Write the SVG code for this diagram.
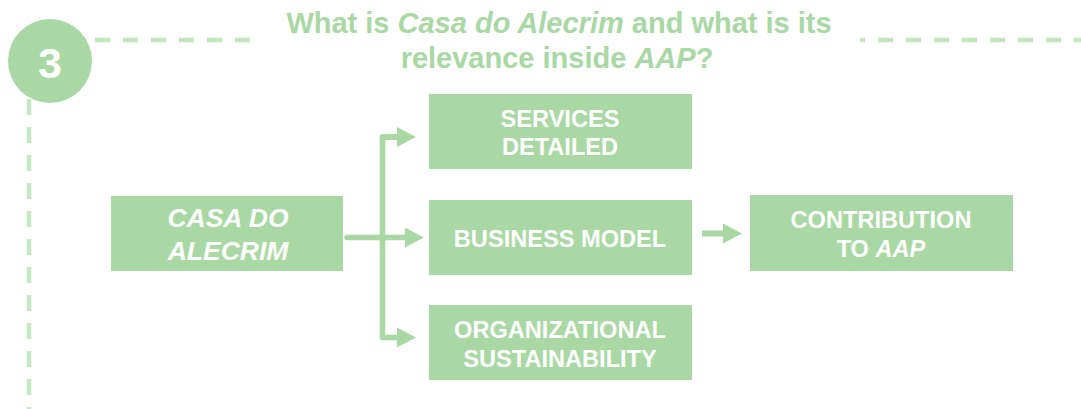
<svg xmlns="http://www.w3.org/2000/svg" width="1081" height="409" viewBox="0 0 1081 409">
<style>
.box{fill:#a9d8a4}
.bt{fill:#ffffff;font-family:"Liberation Sans",Arial,sans-serif;font-weight:bold;font-size:23.6px;text-anchor:middle}
.big{font-size:26.5px}
.it{font-style:italic}
.dash{stroke:#c4e6c0;stroke-width:4.5;fill:none}
.conn{stroke:#a9d8a4;stroke-width:5.5;fill:none;stroke-linejoin:round;stroke-linecap:round}
.title{fill:#a9d8a4;font-family:"Liberation Sans",Arial,sans-serif;font-weight:bold;font-size:29px;text-anchor:middle}
</style>
<defs>
<marker id="ah" markerUnits="userSpaceOnUse" markerWidth="20" markerHeight="20" viewBox="0 0 18 19" refX="0" refY="9.5" orient="auto">
<path d="M0,0 L18,9.5 L0,19 Z" fill="#a9d8a4"/>
</marker>
</defs>
<g id="frame">
<line class="dash" x1="95" y1="40" x2="250" y2="40" stroke-dasharray="15 13"/>
<line class="dash" x1="860" y1="40" x2="1081" y2="40" stroke-dasharray="15 13" stroke-dashoffset="10"/>
<line class="dash" x1="29" y1="99" x2="29" y2="409" stroke-dasharray="16 12"/>
</g>
<g id="badge">
<circle cx="50" cy="61" r="42" fill="#a9d8a4"/>
<text x="50" y="78" fill="#ffffff" font-family="Liberation Sans,Arial,sans-serif" font-weight="bold" font-size="43" text-anchor="middle">3</text>
</g>
<g id="title">
<text class="title" x="559" y="33">What is <tspan class="it">Casa do Alecrim</tspan> and what is its</text>
<text class="title" x="557" y="68">relevance inside <tspan class="it">AAP</tspan>?</text>
</g>
<g id="connectors">
<line class="conn" x1="347" y1="237.5" x2="405" y2="237.5" marker-end="url(#ah)"/>
<path class="conn" d="M397,137 L382.5,137 L382.5,337.5 L397,337.5" marker-end="url(#ah)"/>
<path class="conn" d="M382.5,137 L397,137" marker-end="url(#ah)"/>
<line x1="702" y1="233.5" x2="723" y2="233.5" stroke="#a9d8a4" stroke-width="6" marker-end="url(#ah)"/>
</g>
<g id="casa">
<rect class="box" x="111" y="196" width="232" height="75"/>
<text class="bt it big" x="228" y="227">CASA DO</text>
<text class="bt it big" x="228" y="260">ALECRIM</text>
</g>
<g id="services">
<rect class="box" x="429" y="94" width="263" height="75"/>
<text class="bt" x="560" y="127">SERVICES</text>
<text class="bt" x="560" y="155">DETAILED</text>
</g>
<g id="business">
<rect class="box" x="429" y="200" width="263" height="75"/>
<text class="bt" x="560" y="247">BUSINESS MODEL</text>
</g>
<g id="organizational">
<rect class="box" x="429" y="305" width="263" height="75"/>
<text class="bt" x="560" y="338">ORGANIZATIONAL</text>
<text class="bt" x="560" y="367">SUSTAINABILITY</text>
</g>
<g id="contribution">
<rect class="box" x="750" y="195" width="263" height="76"/>
<text class="bt" x="881" y="228">CONTRIBUTION</text>
<text class="bt" x="881" y="257">TO <tspan class="it">AAP</tspan></text>
</g>
</svg>
